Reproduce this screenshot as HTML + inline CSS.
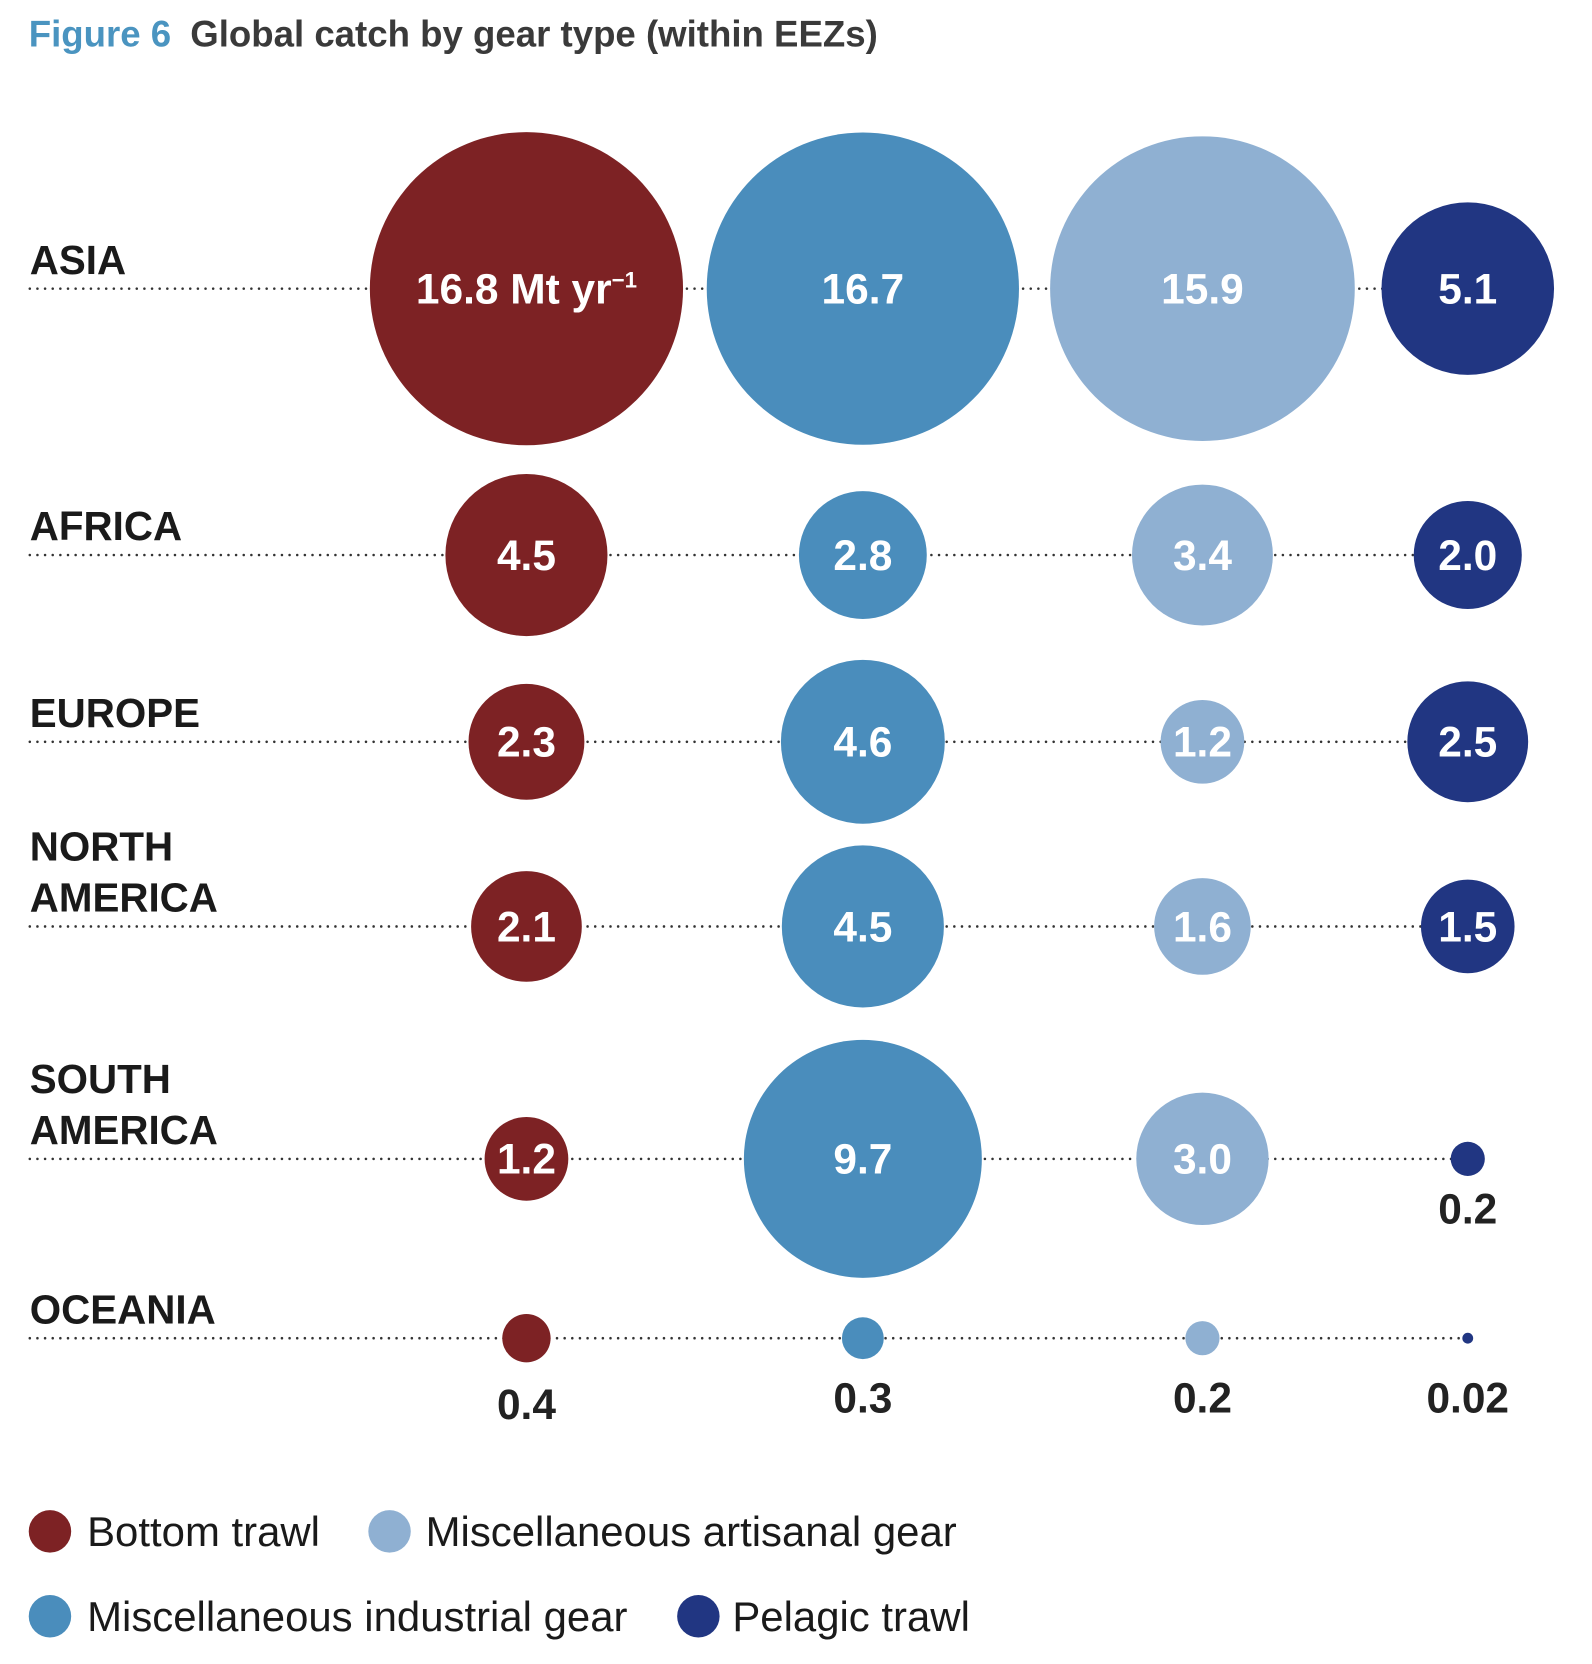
<!DOCTYPE html>
<html><head><meta charset="utf-8"><style>
html,body{margin:0;padding:0;background:#fff;}
svg{display:block;font-family:"Liberation Sans",Arial,sans-serif;}
</style></head><body>
<svg id="chart" width="1592" height="1664" viewBox="0 0 1500 1568" xmlns="http://www.w3.org/2000/svg">
<text x="27" y="44" font-size="34.5" font-weight="bold"><tspan fill="#4a94c0">Figure 6</tspan><tspan fill="#3a3a3a" dx="18">Global catch by gear type (within EEZs)</tspan></text>
<g id="grid"></g>
<g id="bubbles"></g>
<g id="legend"></g>
</svg>
<script>
const regions = ["ASIA","AFRICA","EUROPE","NORTH AMERICA","SOUTH AMERICA","OCEANIA"];
const gears = ["Bottom trawl","Miscellaneous industrial gear","Miscellaneous artisanal gear","Pelagic trawl"];
const bottomTrawl = [16.8,4.5,2.3,2.1,1.2,0.4];
const industrial = [16.7,2.8,4.6,4.5,9.7,0.3];
const artisanal = [15.9,3.4,1.2,1.6,3.0,0.2];
const pelagic = [5.1,2.0,2.5,1.5,0.2,0.02];
const labels = [
 ["16.8","4.5","2.3","2.1","1.2","0.4"],
 ["16.7","2.8","4.6","4.5","9.7","0.3"],
 ["15.9","3.4","1.2","1.6","3.0","0.2"],
 ["5.1","2.0","2.5","1.5","0.2","0.02"]];
const series = [bottomTrawl, industrial, artisanal, pelagic];
const colors = ["#7d2224","#4a8dbc","#8fb0d2","#213682"];

const NS="http://www.w3.org/2000/svg";
const colX = [496,813,1133,1383];
const rowY = [272,523,699,873,1092,1261];
function xPos(i){return colX[i];}
function yPos(j){return rowY[j];}
function rScale(v){return 36*Math.sqrt(v);}
function mk(tag,attrs,parent){const e=document.createElementNS(NS,tag);for(const k in attrs)e.setAttribute(k,attrs[k]);parent.appendChild(e);return e;}
const grid=document.getElementById('grid'), bub=document.getElementById('bubbles'), leg=document.getElementById('legend');

regions.forEach((r,j)=>{
  const y=yPos(j);
  const ln=mk('line',{x1:28,y1:y,x2:xPos(3),y2:y,stroke:'#333','stroke-width':2.4,'stroke-dasharray':'0 7.2','stroke-linecap':'round'},grid);
  
  
  const parts=r.split(' ');
  const t=mk('text',{x:28,'font-size':38,'font-weight':'bold',fill:'#1a1a1a'},grid);
  
  
  if(parts.length===1){t.setAttribute('y',y-14);t.textContent=r;}
  else{t.setAttribute('y',y-62);
    mk('tspan',{x:28},t).textContent=parts[0];
    mk('tspan',{x:28,dy:48},t).textContent=parts[1];}
});

series.forEach((s,i)=>{
  s.forEach((v,j)=>{
    const cx=xPos(i), cy=yPos(j), r=rScale(v);
    const c=mk('circle',{cx:cx,cy:cy,r:r,fill:colors[i]},bub);
    
    
    const inside = r>30;
    const t=mk('text',{x:cx,'text-anchor':'middle','font-size':40,'font-weight':'bold',fill:inside?'#fff':'#222'},bub);
    
    
    if(inside){t.setAttribute('y',cy+14);}
    else{t.setAttribute('y', j===regions.length-1 ? (i===0?1337:1331) : cy+r+45);}
    t.textContent=labels[i][j];
    if(i===0&&j===0){
      t.textContent='';
      mk('tspan',{},t).textContent='16.8 Mt yr';
      mk('tspan',{dy:-15,'font-size':21},t).textContent='−1';
    }
  });
});

const legPos=[[47,1443,82],[47,1523,82],[367,1443,401],[658,1523,690]];
const legOrder=[0,1,2,3];
legOrder.forEach(i=>{
  const [cx,cy,tx]=legPos[i];
  const c=mk('circle',{cx:cx,cy:cy,r:20,fill:colors[i]},leg);
  
  
  const t=mk('text',{x:tx,y:cy+14,'font-size':39.5,fill:'#1a1a1a'},leg);
  
  
  t.textContent=gears[i];
});
</script>
</body></html>
